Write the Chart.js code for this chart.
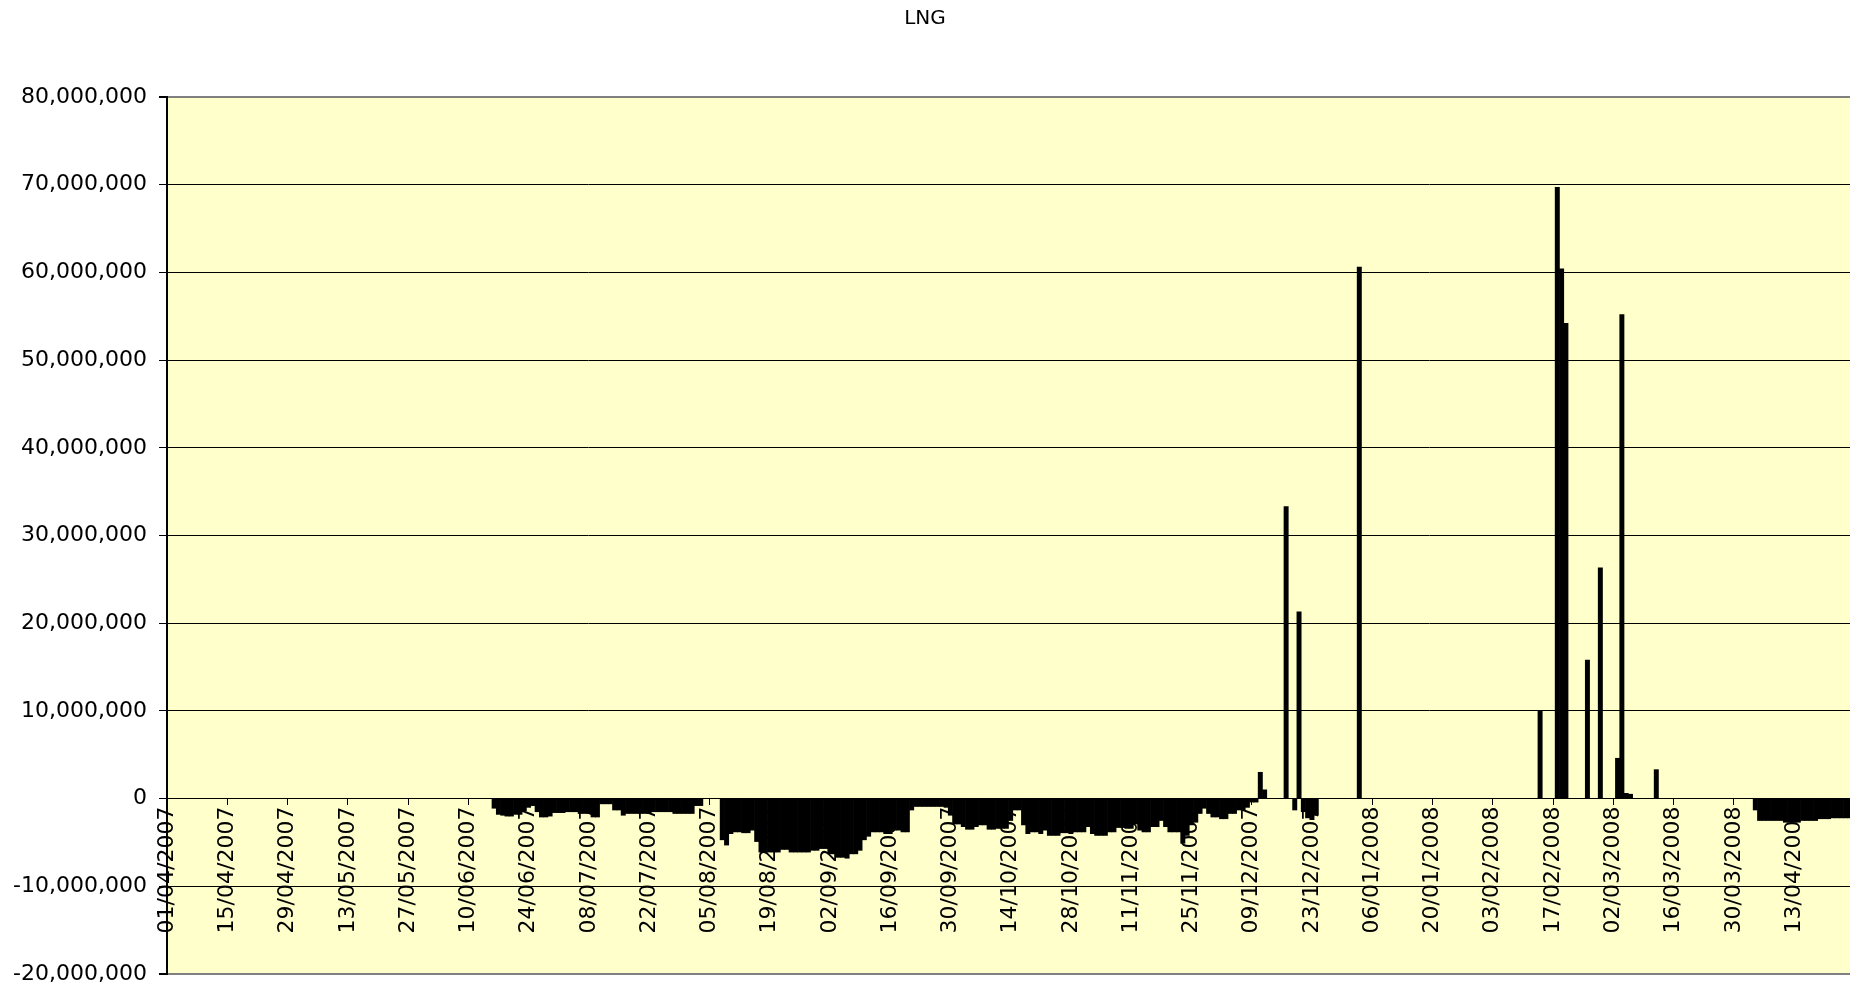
<!DOCTYPE html>
<html>
<head>
<meta charset="utf-8">
<title>LNG</title>
<script src="https://cdn.jsdelivr.net/npm/chart.js@4.4.1/dist/chart.umd.min.js"></script>
<style>
  html, body { margin: 0; padding: 0; background: #fff; overflow: hidden; }
  #wrap { width: 1850px; height: 987px; }
</style>
</head>
<body>
<div id="wrap"><canvas id="lng" width="1850" height="987"></canvas></div>
<script>
// one bar per day starting here
const START_DAY = '2007-04-01';
const DAY_COUNT = 392;

// labelled ticks on the date axis (every 14 days)
const TICK_LABELS = [
  '01/04/2007','15/04/2007','29/04/2007','13/05/2007','27/05/2007','10/06/2007','24/06/2007',
  '08/07/2007','22/07/2007','05/08/2007','19/08/2007','02/09/2007','16/09/2007','30/09/2007',
  '14/10/2007','28/10/2007','11/11/2007','25/11/2007','09/12/2007','23/12/2007','06/01/2008',
  '20/01/2008','03/02/2008','17/02/2008','02/03/2008','16/03/2008','30/03/2008','13/04/2008'
];

// value axis
const Y_MIN = -20000000;
const Y_MAX = 80000000;
const Y_STEP = 10000000;

// daily values in millions (0 = nothing that day), one row = two weeks
const VALUES_M = [
  0,0,0,0,0,0,0,0,0,0,0,0,0,0,
  0,0,0,0,0,0,0,0,0,0,0,0,0,0,
  0,0,0,0,0,0,0,0,0,0,0,0,0,0,
  0,0,0,0,0,0,0,0,0,0,0,0,0,0,
  0,0,0,0,0,0,0,0,0,0,0,0,0,0,
  0,0,0,0,0,0,-1.1,-1.8,-1.9,-2.0,-2.0,-1.8,-1.8,-1.4,
  -1.0,-0.8,-1.5,-2.1,-2.1,-2.0,-1.6,-1.6,-1.6,-1.5,-1.5,-1.5,-1.7,-1.7,
  -1.7,-2.1,-2.1,-0.6,-0.6,-0.6,-1.3,-1.3,-1.9,-1.7,-1.7,-1.7,-1.7,-1.7,
  -1.7,-1.5,-1.5,-1.5,-1.5,-1.5,-1.7,-1.7,-1.7,-1.7,-1.7,-0.8,-0.8,0,
  0,0,0,-4.7,-5.3,-4.0,-3.8,-3.8,-3.9,-3.9,-3.6,-4.9,-6.1,-6.1,
  -6.1,-6.1,-6.1,-5.8,-5.8,-6.1,-6.1,-6.1,-6.1,-6.1,-5.9,-5.9,-5.7,-5.7,
  -6.3,-6.3,-6.7,-6.7,-6.8,-6.3,-6.3,-5.9,-4.7,-4.3,-3.8,-3.8,-3.8,-4.0,
  -4.0,-3.6,-3.6,-3.8,-3.8,-1.3,-0.9,-0.9,-0.9,-0.9,-0.9,-0.9,-0.9,-1.0,
  -1.9,-2.9,-2.9,-3.2,-3.5,-3.5,-3.2,-3.0,-3.0,-3.5,-3.5,-3.4,-3.4,-3.4,
  -2.5,-1.3,-1.3,-3.0,-4.0,-3.8,-3.8,-4.0,-3.6,-4.2,-4.2,-4.2,-3.9,-3.9,
  -4.0,-3.8,-3.8,-3.8,-3.2,-4.0,-4.2,-4.2,-4.2,-3.8,-3.8,-3.3,-3.3,-3.4,
  -3.4,-2.9,-3.6,-3.8,-3.8,-3.2,-3.2,-2.5,-3.2,-3.8,-3.8,-3.8,-5.1,-4.2,
  -3.0,-2.7,-1.7,-1.1,-1.7,-2.1,-2.1,-2.3,-2.3,-1.7,-1.7,-1.3,-1.3,-1.0,
  -0.4,-0.4,3.0,1.0,0,0,0,0,33.3,0,-1.3,21.3,-1.5,-2.2,
  -2.4,-1.9,0,0,0,0,0,0,0,0,0,60.6,0,0,
  0,0,0,0,0,0,0,0,0,0,0,0,0,0,
  0,0,0,0,0,0,0,0,0,0,0,0,0,0,
  0,0,0,0,0,0,0,0,0,0,0,10.0,0,0,
  0,69.7,60.4,54.2,0,0,0,0,15.8,0,0,26.3,0,0,
  0,4.6,55.2,0.6,0.5,0,0,0,0,0,3.3,0,0,0,
  0,0,0,0,0,0,0,0,0,0,0,0,0,0,
  0,0,0,0,0,-1.3,-2.5,-2.5,-2.5,-2.5,-2.5,-2.5,-2.7,-2.7,
  -2.7,-2.7,-2.5,-2.5,-2.5,-2.5,-2.3,-2.3,-2.3,-2.2,-2.2,-2.2,-2.2,-2.2
];

const FONT = 'DejaVu Sans';

// dd/mm/yyyy for every day of the series
function dayLabels(start, n){
  const out = [];
  const d0 = new Date(start + 'T00:00:00Z');
  for (let i = 0; i < n; i++) {
    const d = new Date(d0.getTime() + i * 86400000);
    const dd = String(d.getUTCDate()).padStart(2, '0');
    const mm = String(d.getUTCMonth() + 1).padStart(2, '0');
    out.push(`${dd}/${mm}/${d.getUTCFullYear()}`);
  }
  return out;
}

const labels = dayLabels(START_DAY, DAY_COUNT);
const values = VALUES_M.map(v => v === 0 ? null : v * 1000000);

// pale yellow plot area
const plotBg = {
  id: 'plotBg',
  beforeDraw(chart){
    const {ctx, chartArea: a} = chart;
    ctx.save();
    ctx.fillStyle = '#ffffcc';
    ctx.fillRect(a.left, a.top, a.right - a.left, a.bottom - a.top);
    ctx.restore();
  }
};

new Chart(document.getElementById('lng'), {
  type: 'bar',
  data: {
    labels,
    datasets: [{
      label: 'LNG',
      data: values,
      backgroundColor: '#000',
      borderWidth: 0,
      barPercentage: 1,
      categoryPercentage: 1
    }]
  },
  options: {
    responsive: false,
    animation: false,
    devicePixelRatio: 1,
    layout: { padding: 0 },
    plugins: {
      legend: { display: false },
      tooltip: { enabled: false },
      title: {
        display: true,
        text: 'LNG',
        color: '#000',
        font: { family: FONT, size: 20, weight: 'normal' },
        padding: { top: 7, bottom: 66 }
      }
    },
    scales: {
      x: {
        type: 'category',
        position: { y: 0 },
        offset: false,
        grid: { display: true, drawOnChartArea: false, drawTicks: true, tickLength: 6, color: '#000', offset: false },
        border: { display: true, color: '#000', width: 1 },
        ticks: {
          autoSkip: false,
          minRotation: 90,
          maxRotation: 90,
          padding: 2,
          color: '#000',
          font: { family: FONT, size: 22 }
        },
        afterBuildTicks(scale){
          scale.ticks = scale.ticks.filter(t => TICK_LABELS.includes(labels[t.value]));
        },
        afterFit(scale){
          scale.height = 0;
          scale.paddingLeft = 0;
          scale.paddingRight = 0;
        }
      },
      y: {
        min: Y_MIN,
        max: Y_MAX,
        grid: {
          color: c => (c.tick && (c.tick.value === Y_MAX || c.tick.value === Y_MIN)) ? '#808080' : '#000',
          lineWidth: c => (c.tick && (c.tick.value === Y_MAX || c.tick.value === Y_MIN)) ? 2 : 1,
          tickColor: '#000',
          tickLength: 8
        },
        border: { display: true, color: '#000', width: 2 },
        ticks: {
          stepSize: Y_STEP,
          padding: 12,
          color: '#000',
          font: { family: FONT, size: 22 },
          callback: v => v.toLocaleString('en-US')
        },
        afterFit(scale){
          scale.width = 167;
          // only half a label below the plot, like the original
          scale.paddingBottom = 13;
        }
      }
    }
  },
  plugins: [plotBg]
});
</script>
</body>
</html>
